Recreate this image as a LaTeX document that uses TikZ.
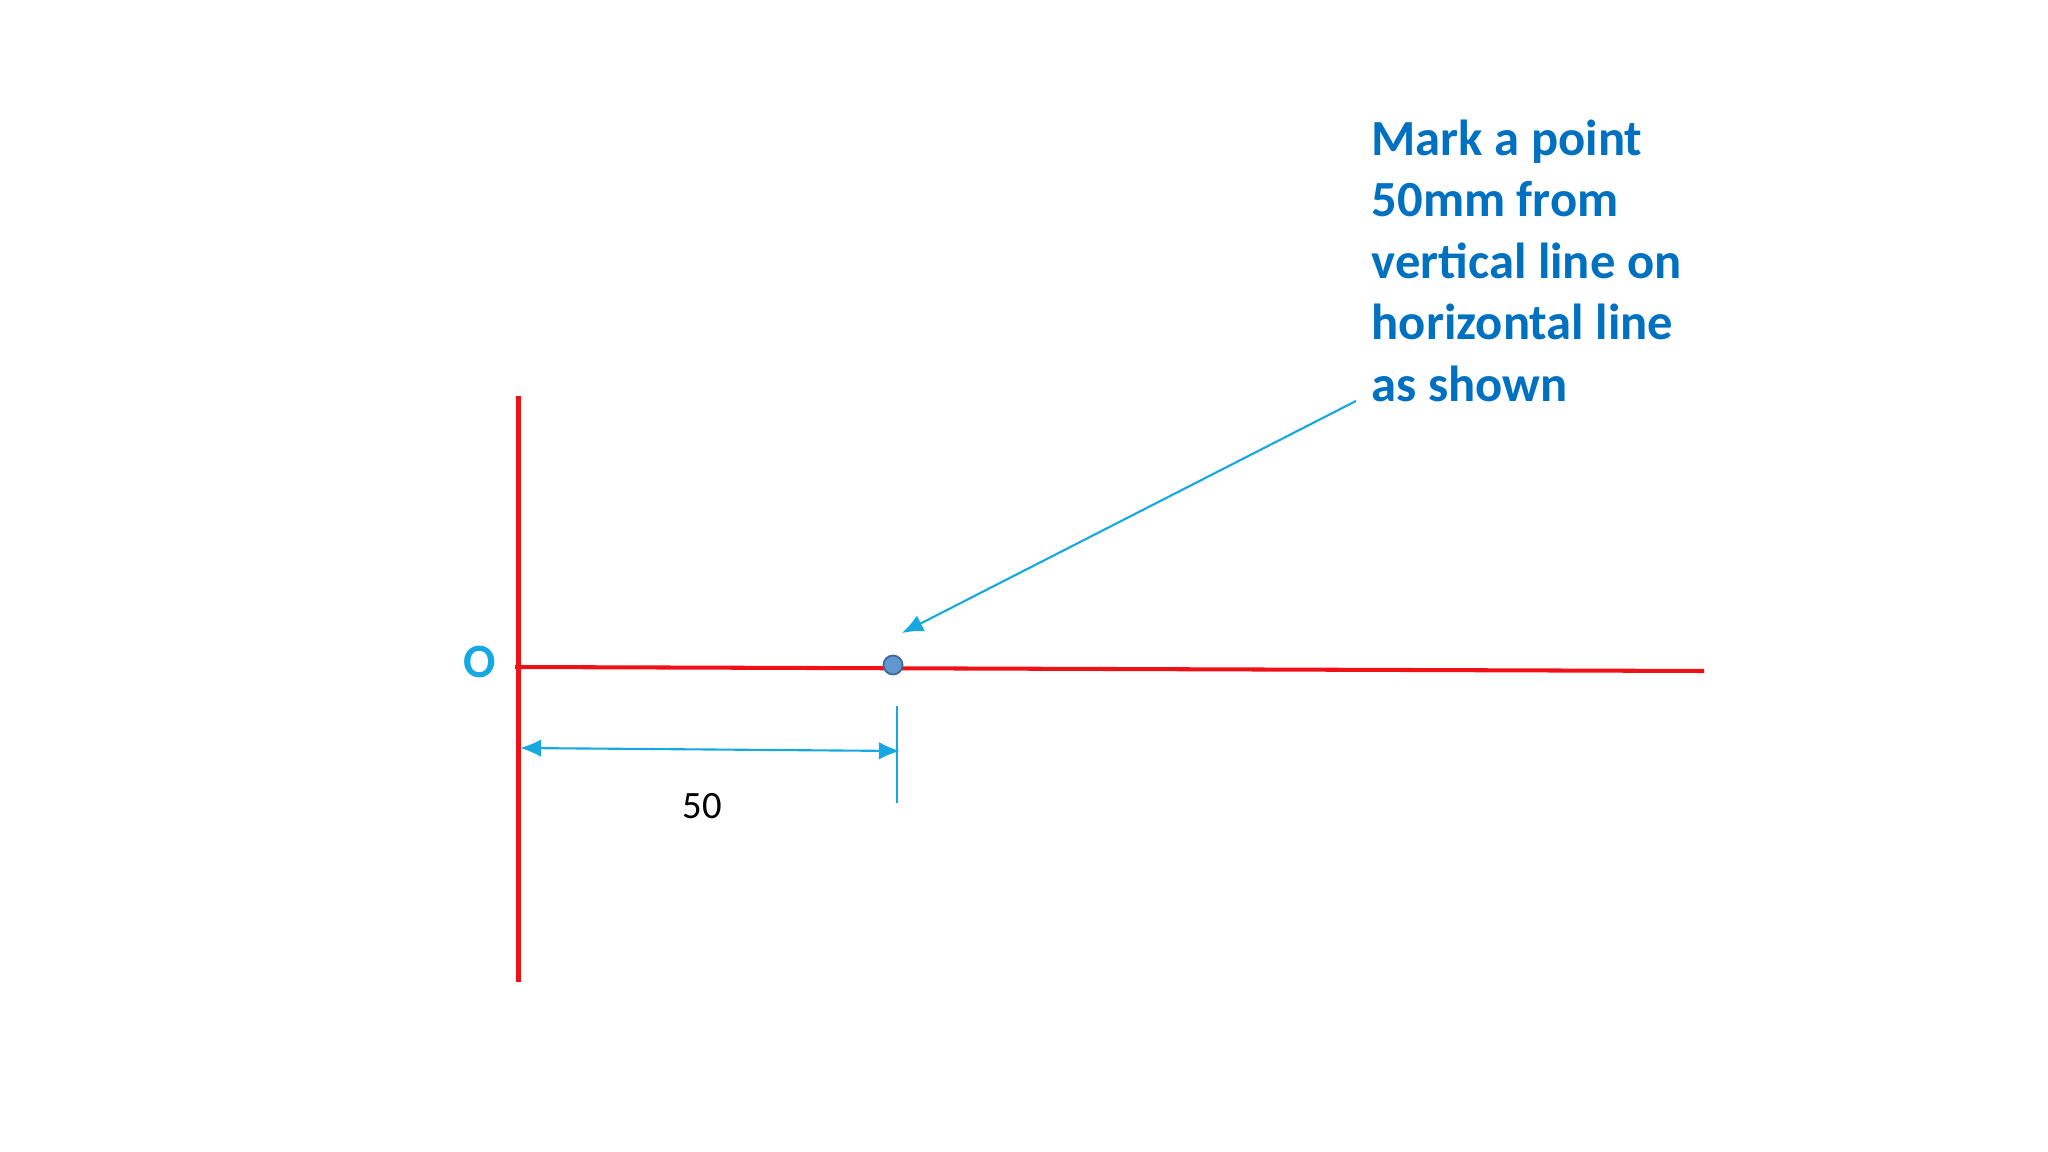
\documentclass[tikz,border=0pt]{standalone}
\usepackage{fontspec}
\setmainfont{Carlito}
\usetikzlibrary{arrows.meta}
\definecolor{linered}{RGB}{240,16,24}
\definecolor{dimblue}{RGB}{22,168,224}
\definecolor{textblue}{RGB}{0,112,192}
\definecolor{dotfill}{RGB}{96,150,210}
\definecolor{dotedge}{RGB}{60,105,150}
\tikzset{
  redline/.style={draw=linered, line width=1.15pt},
  dimline/.style={draw=dimblue, line width=0.6pt},
  dimtip/.style={-{Latex[length=6pt, width=5pt]}}
}
\begin{document}
\begin{tikzpicture}[x=0.01cm, y=-0.01cm]
    \useasboundingbox[fill=white] (0,0) rectangle (2048,1152);

    % the two lines
    \coordinate (vtop) at (518.5,396);
    \coordinate (vbot) at (518.5,982);
    \coordinate (hleft) at (515,667);
    \coordinate (hright) at (1704,671);
    \draw[redline] (vtop) -- (vbot);
    \draw[redline] (hleft) -- (hright);

    \node[text=dimblue, font=\fontsize{13.6}{15}\selectfont\bfseries] (origin) at (480,662) {O};

    % the marked point
    \node[circle, fill=dotfill, draw=dotedge, line width=0.5pt, inner sep=0pt, minimum size=0.19cm] (point) at (893,665) {};

    % dimension
    \coordinate (dimleft) at (520,748);
    \coordinate (dimright) at (900,751);
    \coordinate (ticktop) at (897,706);
    \coordinate (tickbot) at (897,803);
    \draw[dimline] (ticktop) -- (tickbot);
    \draw[dimline, {Latex[length=6pt, width=5pt]}-{Latex[length=6pt, width=5pt]}] (dimleft) -- (dimright);
    \node[font=\fontsize{11}{13}\selectfont] (dimlabel) at (702,806) {50};

    % note
    \node[anchor=north west, align=left, inner sep=0pt, text=textblue,
          font=\fontsize{14.4}{17.5}\selectfont\bfseries] (note) at (1371,119)
      {Mark a point\\50mm from\\vertical line on\\horizontal line\\as shown};
    \coordinate (notefoot) at (1356,401);
    \draw[dimline, dimtip] (notefoot) -- (902,633);
  \end{tikzpicture}
\end{document}
